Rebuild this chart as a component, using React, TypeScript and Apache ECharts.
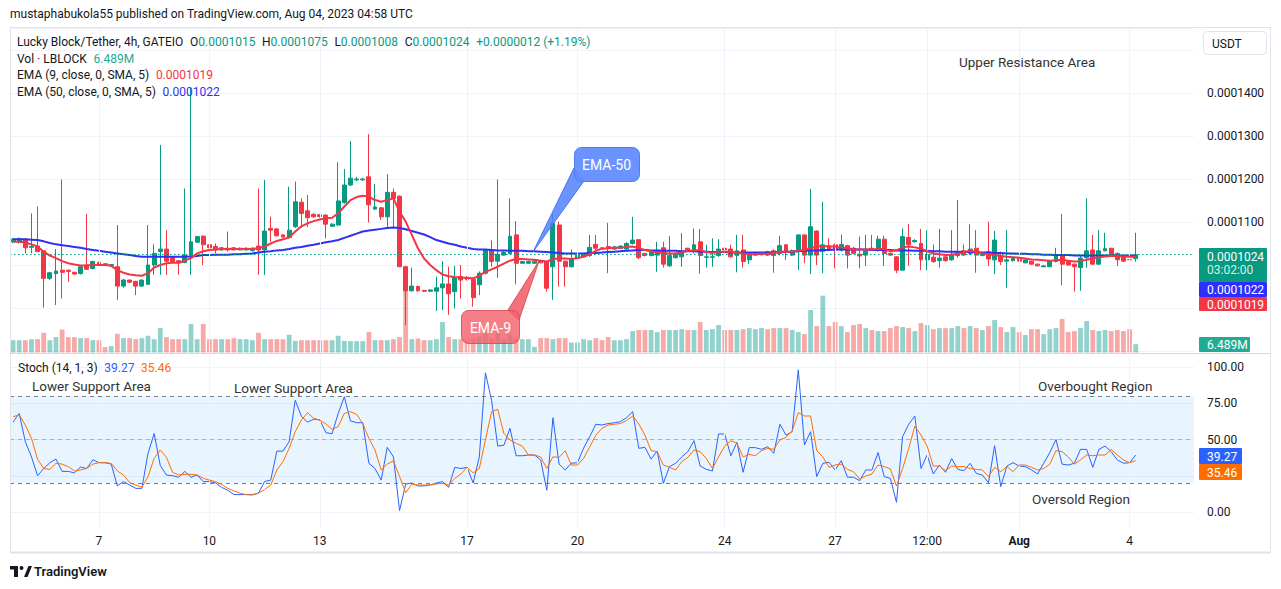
import React, { useEffect, useRef } from "react";
import * as echarts from "echarts";

// prices in units of 1e-7 USDT
const OPEN = [
  1054,1053,1060,1041,1044,1033,969,980,988,988,
  983,980,1000,992,1006,1003,998,996,951,965,
  962,951,955,1000,1031,1037,1017,1010,1006,1023,
  1053,1067,1047,1043,1035,1039,1040,1035,1035,1033,
  1044,1035,1085,1084,1070,1064,1089,1146,1126,1118,
  1117,1116,1090,1093,1145,1186,1198,1198,1205,1130,
  1133,1112,1169,1160,996,940,950,941,939,939,
  947,956,938,973,972,967,954,981,1035,1009,
  1023,1027,1070,1004,1004,1004,1008,1008,996,1093,
  1009,996,1016,1019,1022,1048,1040,1043,1037,1039,
  1037,1050,1059,1027,1022,1023,1040,998,1017,1019,
  1039,1035,1054,1018,1018,1022,1039,1037,1022,1035,
  1012,1023,1024,1031,1033,1027,1047,1023,1031,1070,
  1023,1079,1031,1045,1047,1035,1045,1039,1025,1023,
  1039,1037,1060,1027,1019,988,1064,1054,1050,1012,
  1018,1010,1019,1012,1022,1033,1027,1039,1022,1031,
  1012,1021,1009,1010,1017,1005,1009,1002,996,996,
  1008,1022,1009,1002,994,1017,1035,1002,1033,1039,
  1027,1019,1013,1015,
];
const HIGH = [
  1063,1064,1062,1120,1136,1034,984,1037,1199,990,
  984,998,1119,1010,1008,1004,1002,1093,968,966,
  963,966,1093,1048,1279,1081,1018,1011,1178,1412,
  1068,1069,1048,1050,1042,1078,1042,1041,1041,1041,
  1178,1198,1112,1086,1071,1182,1194,1155,1163,1120,
  1119,1118,1097,1239,1223,1288,1205,1203,1304,1188,
  1135,1211,1178,1162,998,994,952,942,943,973,
  1009,996,998,1000,974,970,985,1037,1057,1199,
  1035,1155,1102,1010,1010,1011,1010,1010,1120,1101,
  1010,1036,1025,1027,1070,1070,1041,1098,1045,1046,
  1053,1112,1060,1028,1033,1054,1054,1067,1029,1074,
  1040,1085,1084,1047,1062,1060,1040,1047,1070,1070,
  1030,1031,1029,1033,1036,1068,1049,1036,1071,1071,
  1177,1080,1147,1062,1050,1071,1047,1042,1066,1070,
  1070,1068,1068,1029,1021,1085,1095,1060,1084,1081,
  1048,1084,1020,1081,1151,1048,1095,1081,1027,1101,
  1079,1031,1081,1019,1019,1013,1010,1003,999,1011,
  1040,1119,1010,1003,1023,1155,1070,1081,1075,1040,
  1029,1021,1014,1075,
];
const LOW = [
  1051,1050,1027,1027,1030,901,965,907,922,961,
  977,978,989,990,999,998,997,919,947,958,
  930,949,954,977,977,977,1007,977,1004,977,
  1052,1000,1039,1027,1034,1031,1034,1034,1033,1032,
  977,977,1054,1066,1064,1062,1086,1087,1088,1110,
  1110,1062,1089,1091,1143,1184,1195,1196,1099,1128,
  1105,1088,1088,1085,860,938,938,937,937,893,
  895,884,899,922,964,903,930,978,996,970,
  1022,1025,955,1003,1003,1003,1004,938,919,950,
  950,994,1014,1018,1019,1033,1037,981,1035,1038,
  1036,1048,1014,1020,1020,984,994,996,1015,996,
  1032,1027,980,994,996,1019,1034,1017,983,994,
  1002,1022,1022,1021,982,1022,1012,1021,988,1004,
  979,1000,981,1035,992,1031,992,1025,992,998,
  1033,1031,998,1021,981,987,998,1052,988,988,
  1005,994,1008,1010,1017,1022,1023,982,1020,998,
  979,1000,947,1008,1008,1004,1001,997,995,995,
  1006,953,999,938,940,994,1000,1000,1032,1020,
  998,1007,1008,1008,
];
const CLOSE = [
  1060,1061,1040,1043,1031,969,982,986,983,985,
  979,996,990,1008,1000,999,1001,951,965,960,
  951,965,1000,1027,1037,1009,1008,1005,1023,1054,
  1066,1047,1040,1035,1040,1035,1035,1039,1039,1039,
  1035,1079,1081,1068,1065,1081,1147,1120,1110,1112,
  1113,1095,1095,1149,1186,1202,1200,1200,1140,1135,
  1112,1169,1155,996,940,951,940,939,942,947,
  956,933,971,965,966,924,981,1035,1008,1025,
  1029,1067,1004,1008,1008,1009,1005,946,1097,1009,
  996,1014,1023,1025,1041,1039,1038,1040,1042,1044,
  1050,1058,1017,1022,1031,1034,1002,1022,1027,1031,
  1033,1047,1022,1019,1019,1037,1035,1019,1033,1008,
  1027,1029,1027,1023,1022,1045,1031,1033,1070,1023,
  1089,1023,1047,1037,1035,1048,1023,1027,1021,1033,
  1035,1060,1027,1023,988,1066,1047,1057,1012,1025,
  1008,1016,1010,1025,1029,1023,1037,1023,1025,1014,
  1058,1008,1012,1017,1009,1012,1002,998,998,1010,
  1023,1002,1000,996,1016,1033,1002,1033,1038,1022,
  1012,1009,1012,1024,
];
// volume in millions of LBLOCK
const VOLUME = [
  9.6,9.6,9.6,10.4,10.4,15.4,9.6,12.0,18.0,12.0,
  12.0,11.2,11.2,9.6,9.6,4.2,5.0,14.6,11.2,11.2,
  10.4,11.2,13.0,10.4,19.0,12.0,10.4,10.4,10.4,22.2,
  10.4,22.2,10.4,10.4,10.4,10.4,11.2,10.4,10.4,9.6,
  15.4,10.4,10.4,10.4,10.4,13.8,9.1,9.6,9.6,9.6,
  9.6,9.6,9.6,13.0,9.1,8.9,8.9,8.9,15.9,9.6,
  9.6,9.6,10.4,12.0,48.2,10.4,10.9,9.6,9.6,10.4,
  23.7,12.0,10.4,10.4,10.4,10.4,12.3,14.9,10.9,18.0,
  10.4,14.1,10.4,10.4,10.4,4.4,11.2,11.2,10.4,11.2,
  11.2,7.8,7.8,10.4,9.6,11.2,9.6,12.0,9.6,9.6,
  10.4,16.7,17.5,17.5,17.5,15.9,17.5,17.5,17.5,18.2,
  17.5,17.5,23.7,17.5,18.2,21.4,17.5,17.5,17.5,18.2,
  19.0,18.2,19.0,18.2,19.0,19.0,19.0,17.5,15.9,14.3,
  33.1,20.6,44.3,20.6,23.7,20.6,15.9,21.4,22.2,19.0,
  17.5,16.7,16.7,19.0,20.6,19.8,19.0,16.7,22.9,21.4,
  18.2,19.0,19.0,19.0,20.6,19.0,20.6,19.0,17.5,20.6,
  25.3,19.8,15.9,19.8,15.9,13.6,18.2,18.2,14.3,18.2,
  19.0,26.1,15.9,16.7,19.0,24.5,17.5,16.7,17.5,16.7,
  17.5,16.7,18.2,6.489,
];
const EMA9 = [
  1054,1054,1053,1048,1043,1031,1022,1016,1009,1004,
  1001,999,999,1000,1000,1000,998,988,982,978,
  976,975,981,994,1000,1004,1005,1005,1010,1016,
  1027,1032,1035,1036,1037,1037,1037,1037,1037,1037,
  1039,1043,1050,1056,1060,1064,1078,1090,1097,1102,
  1106,1109,1110,1120,1136,1151,1158,1161,1159,1151,
  1147,1151,1155,1124,1101,1070,1039,1015,1000,988,
  978,974,972,971,970,969,975,984,990,996,
  1003,1010,1014,1014,1013,1012,1010,1008,1014,1015,
  1015,1014,1016,1019,1025,1033,1038,1039,1040,1040,
  1042,1043,1039,1035,1032,1029,1028,1027,1027,1029,
  1033,1034,1035,1030,1028,1031,1031,1031,1029,1027,
  1025,1025,1026,1026,1028,1031,1031,1031,1033,1035,
  1039,1043,1044,1043,1043,1041,1039,1036,1036,1036,
  1036,1037,1037,1032,1034,1041,1043,1041,1038,1032,
  1027,1025,1023,1024,1026,1030,1033,1030,1027,1025,
  1023,1021,1019,1018,1017,1015,1013,1012,1011,1010,
  1011,1012,1010,1008,1009,1012,1015,1018,1020,1021,
  1021,1020,1019,1019,
];
const EMA50 = [
  1060,1060,1060,1059,1058,1055,1051,1048,1046,1044,
  1042,1040,1037,1035,1033,1031,1029,1027,1025,1023,
  1021,1019,1019,1019,1019,1019,1019,1019,1019,1020,
  1021,1023,1023,1024,1024,1024,1025,1025,1026,1027,
  1029,1031,1032,1034,1035,1037,1040,1042,1045,1047,
  1050,1053,1055,1058,1063,1068,1073,1078,1080,1082,
  1084,1086,1087,1086,1083,1079,1075,1071,1065,1058,
  1054,1050,1047,1043,1040,1037,1036,1036,1035,1034,
  1034,1033,1033,1033,1032,1032,1031,1030,1029,1028,
  1027,1027,1027,1027,1028,1028,1029,1030,1031,1032,
  1033,1034,1035,1035,1034,1034,1033,1033,1033,1032,
  1032,1032,1031,1031,1030,1030,1030,1029,1029,1029,
  1029,1029,1029,1029,1029,1030,1031,1031,1032,1033,
  1034,1034,1035,1035,1036,1036,1036,1036,1036,1036,
  1035,1035,1035,1035,1034,1034,1034,1033,1033,1033,
  1032,1032,1031,1031,1031,1030,1030,1030,1029,1029,
  1028,1028,1027,1027,1026,1026,1025,1025,1024,1024,
  1023,1023,1023,1022,1022,1022,1022,1022,1022,1022,
  1022,1022,1022,1022,
];
const STOCH_K = [
  62,68,48.5,38,25,30,34,36.5,28,28,
  27,31,30,36,34,34,33,18,21,18.6,
  16.3,16.3,40.5,54,32,25.5,25,24,28,24,
  25.5,21,21,20,17,15,12,12,12,12,
  13,21,22,42,42,48.5,77,66,62,64,
  63.5,54.7,54,68,79.5,62.8,61.6,61.6,33.6,30,
  22,44.6,38,1,19.3,20,18,18,18.6,20,
  21,17,30.8,30,30.8,20,38,96,77,45.5,
  46,57.7,38.8,38.8,39.3,39.3,35.9,15,65,33,
  29,33.6,34,44,52,60.5,60,61,61.5,62.3,
  65,69.2,43.9,44.6,36.5,42,19.8,31.3,33.6,38,
  41.6,49.2,31.7,29.4,28.3,53.8,53.8,38.8,48,27.4,
  44.4,44.4,43.2,45,40.5,60.5,53,55.4,98,46.2,
  55.4,24.4,33.6,34.3,29,35.4,24,24,21.6,29,
  29,41,24.4,23.2,6.7,52,60.5,66.2,30,39.3,
  26.2,32.4,27.4,36.8,29.4,28.5,33.6,26.7,25.5,20.2,
  45.7,17.5,31.7,34,31.7,31.3,29,26.2,33.6,41,
  50,33,32.4,33.6,43.2,43.2,30.8,43.2,45.5,41.6,
  35.9,33.6,34,39.27,
];
const STOCH_D = [
  65.7,67,60,50.8,36.3,30,29.4,33.6,33,31.3,
  28.3,29,30,33,34,34,33.5,28.3,25.5,20.2,
  18.6,17,24.4,37,42.8,37.7,27.4,25.5,26,26,
  25.5,23.2,22,21,19,16.3,14.5,12.9,12,11.7,
  12.9,15.5,18.6,29,34.7,43.9,55.4,63.4,68.5,64.6,
  63.4,60.7,57,58.9,68,69.2,67.4,61,50.8,42.8,
  29,33,35.4,24.4,13.3,19.3,18.6,18.6,18.6,19.3,
  19.8,18.6,23.2,26.2,30.8,27,30,49.7,69.2,70.8,
  54.3,49.7,47.4,45.5,39.3,39.3,38,30,38,37.7,
  42.3,32.4,32.4,37,45,53,57.7,60,60.5,61,
  63,66.2,60.7,53,42.3,41.6,32.4,30.8,29,34.7,
  37.7,42.8,41.6,37,30,38,45.5,49.2,47.4,38,
  39.8,38.8,42.3,43.9,43.2,49.7,51.5,56,68.5,66.2,
  66.2,42.3,38,30.8,32.4,33,29.4,27.8,22.8,24.8,
  26.2,32.4,31.3,29.7,17.9,30,43.9,59.3,53,45.5,
  31.7,31.7,28.5,31.7,31.3,31.3,30,29.4,29,24.4,
  30.8,27.8,31.3,27.8,32.4,32.4,30.8,29,30,33,
  42.3,41.6,38,33,35.9,39.3,38.8,39.3,39.3,43.2,
  39.3,35.9,34,35.46,
];
const TICK_INDEX = [14, 32, 50, 74, 92, 116, 134, 149, 164, 182];
const TICK_LABELS = ["7", "10", "13", "17", "20", "24", "27", "12:00", "Aug", "4"];
const PRICE_LABELS = [1100, 1200, 1300, 1400];
const STOCH_BANDS = [80, 50, 20];

const SLOTS = 193;
const UP = "#089981";
const DOWN = "#f23645";
const VUP = "rgba(38,166,154,0.5)";
const VDOWN = "rgba(239,83,80,0.5)";
const BLUE = "#2f2ff5";
const F = "Roboto, 'Noto Sans', Arial, sans-serif";

const fmtP = (v: number) => (v / 1e7).toFixed(7);

function txt(x: number, y: number, text: string, fill: string, size = 12, extra: any = {}, z = 100) {
  return {
    type: "text",
    x,
    y,
    z,
    style: { text, fill, fontSize: size, fontFamily: F, verticalAlign: "middle", align: "left", ...extra },
  };
}
function badge(x: number, y: number, w: number, h: number, color: string, text: string) {
  return [
    { type: "rect", z: 100, shape: { x, y, width: w, height: h, r: 1 }, style: { fill: color } },
    txt(x + 8, y + h / 2 + 0.5, text, "#ffffff", 12, {}, 101),
  ];
}

export default function App() {
  const ref = useRef<HTMLDivElement>(null);
  useEffect(() => {
    const chart = echarts.init(ref.current!, null, { renderer: "svg" });
    const cats = Array.from({ length: SLOTS }, (_, i) => String(i));
    const n = OPEN.length;
    const last = n - 1;
    const candles = OPEN.map((o, i) => [o, CLOSE[i], LOW[i], HIGH[i]]);
    const vols = VOLUME.map((v, i) => ({
      value: v,
      itemStyle: { color: CLOSE[i] >= OPEN[i] ? VUP : VDOWN },
    }));
    const chg = CLOSE[last] - CLOSE[last - 1];
    const pct = ((chg / CLOSE[last - 1]) * 100).toFixed(2);

    const xAxes = [0, 1, 2, 3].map((g) => ({
      type: "category",
      gridIndex: g,
      data: cats,
      boundaryGap: true,
      axisLine: { show: false },
      axisTick: { show: false },
      splitLine: { show: false },
      axisLabel:
        g === 3
          ? {
              show: true,
              margin: 7,
              color: "#131722",
              fontSize: 12,
              fontFamily: F,
              hideOverlap: false,
              interval: (idx: number) => TICK_INDEX.includes(idx),
              formatter: (val: string) => {
                const k = TICK_INDEX.indexOf(Number(val));
                if (k < 0) return "";
                const t = TICK_LABELS[k];
                return t === "Aug" ? `{b|${t}}` : t;
              },
              rich: { b: { fontWeight: "bold", fontSize: 12, fontFamily: F, color: "#131722" } },
            }
          : { show: false },
    }));

    const graphic: any[] = [
      // frame
      { type: "line", z: 90, shape: { x1: 10, y1: 27.5, x2: 1271, y2: 27.5 }, style: { stroke: "#e0e3eb", lineWidth: 1 } },
      { type: "line", z: 90, shape: { x1: 10.5, y1: 27.5, x2: 10.5, y2: 553 }, style: { stroke: "#e0e3eb", lineWidth: 1 } },
      { type: "line", z: 90, shape: { x1: 1270.5, y1: 27.5, x2: 1270.5, y2: 553 }, style: { stroke: "#e0e3eb", lineWidth: 1 } },
      { type: "line", z: 90, shape: { x1: 10, y1: 552.5, x2: 1271, y2: 552.5 }, style: { stroke: "#e0e3eb", lineWidth: 2 } },
      { type: "line", z: 90, shape: { x1: 10, y1: 353.5, x2: 1271, y2: 353.5 }, style: { stroke: "#d6d9e0", lineWidth: 1 } },
      txt(10, 14, "mustaphabukola55 published on TradingView.com, Aug 04, 2023 04:58 UTC", "#131722", 12),
      {
        type: "text",
        x: 17,
        y: 42,
        z: 100,
        style: {
          text:
            `{n|Lucky Block/Tether, 4h, GATEIO}  {n|O}{v|${fmtP(OPEN[last])}}  {n|H}{v|${fmtP(HIGH[last])}}  ` +
            `{n|L}{v|${fmtP(LOW[last])}}  {n|C}{v|${fmtP(CLOSE[last])}}  {v|+${fmtP(chg)} (+${pct}%)}`,
          verticalAlign: "middle",
          rich: {
            n: { fill: "#131722", fontSize: 12, fontFamily: F },
            v: { fill: UP, fontSize: 12, fontFamily: F },
          },
        },
      },
      {
        type: "text",
        x: 17,
        y: 59,
        z: 100,
        style: {
          text: `{n|Vol · LBLOCK}  {v|${VOLUME[last].toFixed(3)}M}`,
          verticalAlign: "middle",
          rich: { n: { fill: "#131722", fontSize: 12, fontFamily: F }, v: { fill: "#22ab94", fontSize: 12, fontFamily: F } },
        },
      },
      {
        type: "text",
        x: 17,
        y: 75,
        z: 100,
        style: {
          text: `{n|EMA (9, close, 0, SMA, 5)}  {v|${fmtP(EMA9[last])}}`,
          verticalAlign: "middle",
          rich: { n: { fill: "#131722", fontSize: 12, fontFamily: F }, v: { fill: DOWN, fontSize: 12, fontFamily: F } },
        },
      },
      {
        type: "text",
        x: 17,
        y: 92,
        z: 100,
        style: {
          text: `{n|EMA (50, close, 0, SMA, 5)}  {v|${fmtP(EMA50[last])}}`,
          verticalAlign: "middle",
          rich: { n: { fill: "#131722", fontSize: 12, fontFamily: F }, v: { fill: BLUE, fontSize: 12, fontFamily: F } },
        },
      },
      {
        type: "text",
        x: 18,
        y: 368,
        z: 100,
        style: {
          text: `{n|Stoch (14, 1, 3)}  {k|${STOCH_K[last].toFixed(2)}}  {d|${STOCH_D[last].toFixed(2)}}`,
          verticalAlign: "middle",
          rich: {
            n: { fill: "#131722", fontSize: 12, fontFamily: F },
            k: { fill: "#2962ff", fontSize: 12, fontFamily: F },
            d: { fill: "#ff6d00", fontSize: 12, fontFamily: F },
          },
        },
      },
      // USDT button
      { type: "rect", z: 100, shape: { x: 1203.5, y: 31.5, width: 63, height: 23, r: 4 }, style: { fill: "#fff", stroke: "#e0e3eb", lineWidth: 1 } },
      txt(1212, 43.5, "USDT", "#131722", 12, {}, 101),
      // price badges
      { type: "rect", z: 100, shape: { x: 1199, y: 248, width: 68, height: 34, r: 1 }, style: { fill: UP } },
      txt(1207, 257, fmtP(CLOSE[last]), "#ffffff", 12, {}, 101),
      txt(1207, 270, "03:02:00", "rgba(255,255,255,0.85)", 12, {}, 101),
      ...badge(1199, 282, 68, 15, "#2e2eff", fmtP(EMA50[last])),
      ...badge(1199, 297, 68, 14, DOWN, fmtP(EMA9[last])),
      ...badge(1199, 337, 51, 15, "#22ab94", `${VOLUME[last].toFixed(3)}M`),
      ...badge(1199, 448, 43, 16, "#2962ff", STOCH_K[last].toFixed(2)),
      ...badge(1199, 464, 43, 16, "#ff6d00", STOCH_D[last].toFixed(2)),
      // annotations
      txt(959, 62, "Upper Resistance Area", "#333333", 13.5),
      txt(32, 386, "Lower Support Area", "#333333", 13.5),
      txt(234, 388, "Lower Support Area", "#333333", 13.5),
      txt(1038, 386, "Overbought Region", "#333333", 13.5),
      txt(1032, 499, "Oversold Region", "#333333", 13.5),
      // EMA-50 callout
      {
        type: "polygon",
        z: 100,
        shape: { points: [[574, 168], [584, 181], [533, 252]] },
        style: { fill: "rgba(84,128,255,0.85)", stroke: "rgba(60,110,235,0.9)", lineWidth: 1 },
      },
      {
        type: "rect",
        z: 101,
        shape: { x: 574.5, y: 147.5, width: 65, height: 34, r: 7 },
        style: { fill: "rgba(98,141,255,0.95)", stroke: "#4a80ee", lineWidth: 1 },
      },
      txt(606.5, 164.5, "EMA-50", "#ffffff", 14, { align: "center" }, 110),
      // EMA-9 callout
      {
        type: "polygon",
        z: 100,
        shape: { points: [[508, 310], [519, 320], [539, 261]] },
        style: { fill: "rgba(242,90,100,0.85)", stroke: "rgba(220,70,80,0.9)", lineWidth: 1 },
      },
      {
        type: "rect",
        z: 101,
        shape: { x: 461.5, y: 310.5, width: 58, height: 33, r: 7 },
        style: { fill: "rgba(244,98,108,0.82)", stroke: "rgba(210,80,90,0.9)", lineWidth: 1 },
      },
      txt(490.5, 327.5, "EMA-9", "#ffffff", 14, { align: "center" }, 110),
      // TradingView logo
      { type: "rect", z: 100, shape: { x: 10, y: 566, width: 8, height: 3.5 }, style: { fill: "#131722" } },
      { type: "rect", z: 100, shape: { x: 14, y: 566, width: 4, height: 11 }, style: { fill: "#131722" } },
      { type: "circle", z: 100, shape: { cx: 21.5, cy: 568, r: 2 }, style: { fill: "#131722" } },
      { type: "polygon", z: 100, shape: { points: [[24, 577], [28.5, 566], [32, 566], [27.5, 577]] }, style: { fill: "#131722" } },
      txt(34, 571.5, "TradingView", "#131722", 13, { fontWeight: 600 }),
    ];

    const option: any = {
      animation: false,
      backgroundColor: "#ffffff",
      textStyle: { fontFamily: F },
      grid: [
        { left: 10, width: 1184, top: 28.5, height: 322.5 },
        { left: 10, width: 1184, top: 252.5, height: 100 },
        { left: 10, width: 1184, top: 367, height: 145 },
        { left: 10, width: 1184, top: 28, height: 500 },
      ],
      xAxis: xAxes,
      yAxis: [
        {
          gridIndex: 0,
          type: "value",
          position: "right",
          min: 800,
          max: 1550,
          interval: 100,
          axisLine: { show: false },
          axisTick: { show: false },
          axisLabel: {
            margin: 13,
            color: "#131722",
            fontSize: 12,
            fontFamily: F,
            formatter: (v: number) => (PRICE_LABELS.includes(v) ? fmtP(v) : ""),
          },
          splitLine: { lineStyle: { color: "#f0f3fa", width: 1 } },
        },
        { gridIndex: 1, type: "value", min: 0, max: 77.9, show: false },
        {
          gridIndex: 2,
          type: "value",
          position: "right",
          min: 0,
          max: 100,
          interval: 25,
          axisLine: { show: false },
          axisTick: { show: false },
          axisLabel: {
            margin: 13,
            color: "#131722",
            fontSize: 12,
            fontFamily: F,
            formatter: (v: number) => (v === 25 ? "" : v.toFixed(2)),
          },
          splitLine: { lineStyle: { color: "#f0f3fa", width: 1 } },
        },
        { gridIndex: 3, type: "value", min: 0, max: 1, show: false },
      ],
      series: [
        {
          type: "line",
          xAxisIndex: 3,
          yAxisIndex: 3,
          data: cats.map(() => null),
          symbol: "none",
          silent: true,
          z: 0,
          markLine: {
            silent: true,
            symbol: ["none", "none"],
            label: { show: false },
            lineStyle: { color: "#f0f3fa", width: 1, type: "solid" },
            data: TICK_INDEX.map((i) => ({ xAxis: i })),
          },
        },
        {
          type: "bar",
          name: "Volume",
          xAxisIndex: 1,
          yAxisIndex: 1,
          data: vols,
          barWidth: 4.8,
          z: 1,
        },
        {
          type: "candlestick",
          name: "LBLOCK",
          xAxisIndex: 0,
          yAxisIndex: 0,
          data: candles,
          barWidth: 4.4,
          z: 3,
          itemStyle: { color: UP, color0: DOWN, borderColor: UP, borderColor0: DOWN, borderWidth: 1 },
          markLine: {
            silent: true,
            symbol: ["none", "none"],
            label: { show: false },
            lineStyle: { color: UP, width: 1, type: [1.5, 2.5] },
            data: [{ yAxis: CLOSE[last] }],
          },
        },
        {
          type: "line",
          name: "EMA 50",
          xAxisIndex: 0,
          yAxisIndex: 0,
          data: EMA50,
          symbol: "none",
          z: 4,
          lineStyle: { color: BLUE, width: 2 },
        },
        {
          type: "line",
          name: "EMA 9",
          xAxisIndex: 0,
          yAxisIndex: 0,
          data: EMA9,
          symbol: "none",
          z: 5,
          lineStyle: { color: DOWN, width: 2 },
        },
        {
          type: "line",
          name: "%K",
          xAxisIndex: 2,
          yAxisIndex: 2,
          data: STOCH_K,
          symbol: "none",
          z: 4,
          lineStyle: { color: "#2962ff", width: 1 },
          markArea: {
            silent: true,
            itemStyle: { color: "rgba(33,150,243,0.1)" },
            data: [[{ yAxis: STOCH_BANDS[0] }, { yAxis: STOCH_BANDS[2] }]],
          },
          markLine: {
            silent: true,
            symbol: ["none", "none"],
            label: { show: false },
            data: STOCH_BANDS.map((b, k) => ({
              yAxis: b,
              lineStyle: { color: k === 1 ? "rgba(120,123,134,0.5)" : "#787b86", width: 1, type: [4, 4] },
            })),
          },
        },
        {
          type: "line",
          name: "%D",
          xAxisIndex: 2,
          yAxisIndex: 2,
          data: STOCH_D,
          symbol: "none",
          z: 5,
          lineStyle: { color: "#ff6d00", width: 1 },
        },
      ],
      graphic,
    };
    chart.setOption(option);
    return () => chart.dispose();
  }, []);
  return <div ref={ref} style={{ position: "fixed", left: 0, top: 0, width: 1281, height: 589 }} />;
}
